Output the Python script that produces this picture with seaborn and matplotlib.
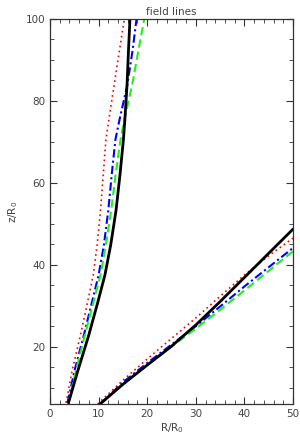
import numpy as np
import pandas as pd
import matplotlib
matplotlib.use("Agg")
import matplotlib.pyplot as plt
import seaborn as sns

# inner field lines (footpoint near R~3.5)
z_inner = [6.3, 14.4, 22.5, 30.7, 37.5, 44.9, 53.4, 62, 70.5, 75.4, 83.9, 92.4, 100]
R_inner_black = [3.8, 5.8, 7.9, 9.8, 11.3, 12.5, 13.6, 14.4, 15.1, 15.4, 15.85, 16.15, 16.45]
R_inner_red = [3.3, 4.6, 6.2, 7.7, 8.9, 9.7, 10.4, 10.95, 11.5, 12.1, 13.2, 14.3, 15.3]
R_inner_blue = [3.6, 5.1, 6.9, 8.6, 10.0, 11.1, 12.0, 12.7, 13.45, 14.3, 15.9, 17.0, 17.8]
R_inner_green = [3.8, 5.4, 7.1, 8.9, 10.4, 11.5, 12.6, 13.5, 14.5, 15.3, 16.9, 18.2, 19.4]

# outer field lines (footpoint near R~10)
R_outer = [10.3, 15, 20, 25, 30, 35, 40, 45, 50]
R_outer_red = [9.8, 15, 20, 25, 30, 35, 40, 45, 50]
z_outer_black = [6.0, 10.8, 15.5, 20.1, 25.3, 31.0, 36.9, 42.8, 48.7]
z_outer_red = [6.0, 11.8, 17.0, 22.0, 27.0, 32.3, 37.5, 42.2, 46.5]
z_outer_blue = [6.0, 11.3, 16.0, 20.5, 25.0, 29.8, 34.7, 39.4, 44.1]
z_outer_green = [6.0, 10.9, 15.5, 20.0, 24.4, 29.0, 33.7, 38.5, 43.3]

x_ticks = [0, 10, 20, 30, 40, 50]
y_ticks = [20, 40, 60, 80, 100]

sns.set_style("ticks")
plt.rcParams['font.family'] = ['DejaVu Sans']

fig = plt.figure(figsize=(3.0, 4.36), dpi=100)
ax = fig.add_axes([0.1667, 0.0734, 0.81, 0.883])

styles = {
    'red': dict(color='red', linestyle=(0, (1, 2)), linewidth=1.2),
    'blue': dict(color='blue', linestyle=(0, (4, 1.5, 1, 1.5)), linewidth=1.5),
    'green': dict(color='#22ee22', linestyle=(0, (4, 2)), linewidth=1.5),
    'black': dict(color='black', linestyle='-', linewidth=2.0),
}

inner = {'red': R_inner_red, 'blue': R_inner_blue, 'green': R_inner_green, 'black': R_inner_black}
outer = {'red': (R_outer_red, z_outer_red), 'blue': (R_outer, z_outer_blue),
         'green': (R_outer, z_outer_green), 'black': (R_outer, z_outer_black)}

for name in ['red', 'blue', 'green', 'black']:
    df = pd.DataFrame({'R': inner[name], 'z': z_inner})
    sns.lineplot(data=df, x='R', y='z', sort=False, estimator=None, ax=ax, **styles[name])
    rr, zz = outer[name]
    df = pd.DataFrame({'R': rr, 'z': zz})
    sns.lineplot(data=df, x='R', y='z', sort=False, estimator=None, ax=ax, **styles[name])

ax.set_xlim(0, 50)
ax.set_ylim(6, 100)
ax.set_xticks(x_ticks)
ax.set_yticks(y_ticks)
ax.set_xticks(np.arange(0, 51, 2), minor=True)
ax.set_yticks(np.arange(10, 101, 5), minor=True)
ax.tick_params(which='both', direction='in', top=True, right=True, labelsize=7.5,
               colors='#333333', labelcolor='#444444')
ax.tick_params(which='major', length=5, width=0.8)
ax.tick_params(which='minor', length=3, width=0.6)
for s in ax.spines.values():
    s.set_color('#333333')
    s.set_linewidth(0.9)

ax.set_xlabel('R/R$_0$', fontsize=7.5, color='#444444', labelpad=2)
ax.set_ylabel('z/R$_0$', fontsize=7.5, color='#444444', labelpad=4)
ax.set_title('field lines', fontsize=7.5, color='#444444', pad=3)

fig.savefig('out.png', dpi=100)
